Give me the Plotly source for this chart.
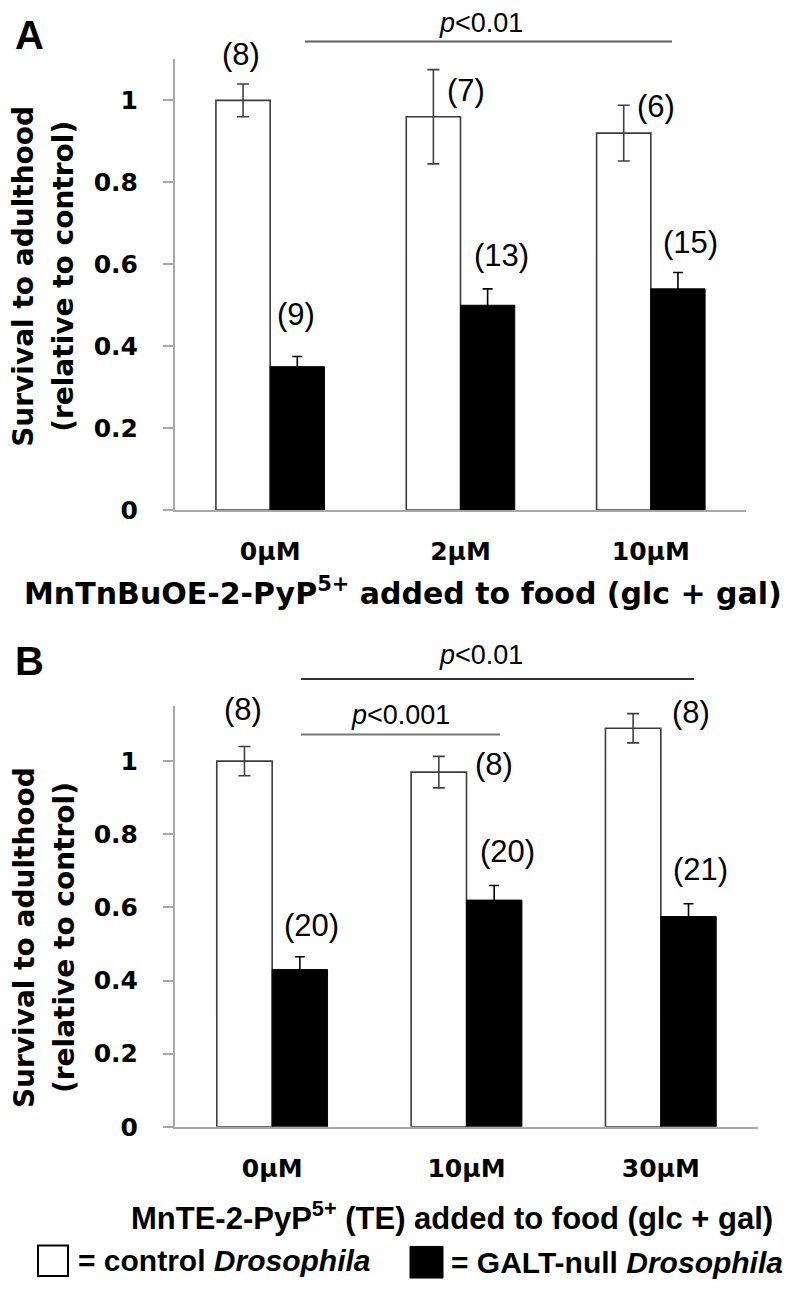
import plotly.graph_objects as go

W, H = 792, 1290

# ---------------- data ----------------
cats_A = ["0µM", "2µM", "10µM"]
ctrl_A = [1.00, 0.96, 0.92]
ctrl_A_err = [0.04, 0.115, 0.068]
galt_A = [0.35, 0.50, 0.54]
galt_A_err = [0.025, 0.04, 0.04]
n_ctrl_A = ["(8)", "(7)", "(6)"]
n_galt_A = ["(9)", "(13)", "(15)"]

cats_B = ["0µM", "10µM", "30µM"]
ctrl_B = [1.00, 0.97, 1.09]
ctrl_B_err = [0.04, 0.043, 0.04]
galt_B = [0.43, 0.62, 0.575]
galt_B_err = [0.035, 0.04, 0.035]
n_ctrl_B = ["(8)", "(8)", "(8)"]
n_galt_B = ["(20)", "(20)", "(21)"]

y_ticks = [0, 0.2, 0.4, 0.6, 0.8, 1.0]
y_ticktext = ["0", "0.2", "0.4", "0.6", "0.8", "1"]

# ---------------- helpers ----------------
def px(x):
    return x / W

def py(y):
    return 1 - y / H

WIDE = "DejaVu Sans"
ARIAL = "Liberation Sans"
AXIS_GRAY = "#A8A8A8"
EDGE = "#3c3c3c"

fig = go.Figure()

def add_bars(cats, ctrl, ctrl_err, galt, galt_err, xa, ya):
    fig.add_trace(go.Bar(
        x=cats, y=ctrl, xaxis=xa, yaxis=ya, name="control",
        marker=dict(color="white", line=dict(color=EDGE, width=1.6)),
        error_y=dict(type="data", array=ctrl_err, color="#404040", thickness=1.6, width=6),
        showlegend=False))
    fig.add_trace(go.Bar(
        x=cats, y=galt, xaxis=xa, yaxis=ya, name="GALT-null",
        marker=dict(color="black", line=dict(color="black", width=1)),
        error_y=dict(type="data", array=galt_err, color="black", thickness=1.6, width=5),
        showlegend=False))

add_bars(cats_A, ctrl_A, ctrl_A_err, galt_A, galt_A_err, "x", "y")
add_bars(cats_B, ctrl_B, ctrl_B_err, galt_B, galt_B_err, "x2", "y2")

tickfont = dict(family=WIDE, size=25, color="black", weight="bold")

def yaxis(domain, rng, anchor):
    return dict(domain=domain, range=rng, anchor=anchor, tickvals=y_ticks, ticktext=y_ticktext,
                showline=True, linecolor=AXIS_GRAY, linewidth=2, ticks="outside",
                ticklen=10, tickwidth=2, tickcolor=AXIS_GRAY, showgrid=False,
                zeroline=False, tickfont=tickfont, ticklabelstandoff=20, fixedrange=True)

def xaxis(domain, anchor):
    return dict(domain=domain, anchor=anchor, showline=True, linecolor=AXIS_GRAY,
                linewidth=2, ticks="", showgrid=False, tickfont=tickfont,
                ticklabelstandoff=18, fixedrange=True)

fig.update_layout(
    width=W, height=H, margin=dict(l=0, r=0, t=0, b=0),
    paper_bgcolor="white", plot_bgcolor="white",
    barmode="group", bargap=0.43, bargroupgap=0,
    xaxis=xaxis([px(167), px(738)], "y"),
    yaxis=yaxis([py(508), py(52)], [0, 1.1], "x"),
    xaxis2=xaxis([px(167), px(750)], "y2"),
    yaxis2=yaxis([py(1132), py(706.5)], [0, 1.15], "x2"),
)

ann = []
def text(x, y, s, size, family=ARIAL, bold=False, angle=0, xanchor="center"):
    ann.append(dict(x=px(x), y=py(y), xref="paper", yref="paper", text=s,
                    showarrow=False, textangle=angle, xanchor=xanchor, yanchor="middle",
                    font=dict(family=family, size=size, color="black",
                              weight="bold" if bold else "normal")))

# panel letters
text(21, 27, "A", 40, family=ARIAL, bold=True)
text(21, 661, "B", 40, family=ARIAL, bold=True)

# y titles (two lines each)
for yc in (272, 941):
    text(16, yc, "Survival to adulthood", 28, family=WIDE, bold=True, angle=-90)
    text(56, yc, "(relative to control)", 28, family=WIDE, bold=True, angle=-90)

# x titles
text(395, 590, "MnTnBuOE-2-PyP<sup>5+</sup> added to food (glc + gal)", 30, family=WIDE, bold=True)
text(444, 1222, "MnTE-2-PyP<sup>5+</sup> (TE) added to food (glc + gal)", 31, family=ARIAL, bold=True)

# n labels
posA_ctrl = [(233, 47), (458, 83), (648, 100)]
posA_galt = [(288, 310), (493, 250), (682, 237)]
posB_ctrl = [(235, 710), (486, 765), (683, 713)]
posB_galt = [(303, 928), (499, 853), (692, 872)]
for labels, pos in [(n_ctrl_A, posA_ctrl), (n_galt_A, posA_galt),
                    (n_ctrl_B, posB_ctrl), (n_galt_B, posB_galt)]:
    for s, (x, y) in zip(labels, pos):
        text(x, y, s, 31)

# p-values
text(473, 15, "<i>p</i><0.01", 27)
text(473, 655, "<i>p</i><0.01", 27)
text(392, 715, "<i>p</i><0.001", 27)

# legend text
text(68, 1267, "= control <i>Drosophila</i>", 30, family=ARIAL, bold=True, xanchor="left")
text(441, 1269, "= GALT-null <i>Drosophila</i>", 30, family=ARIAL, bold=True, xanchor="left")

shapes = []
def hline(x0, x1, y, color, width=2):
    shapes.append(dict(type="line", xref="paper", yref="paper", x0=px(x0), x1=px(x1),
                       y0=py(y), y1=py(y), line=dict(color=color, width=width)))

hline(297, 664, 34, "#606060")
hline(293, 686, 679, "#333333")
hline(293, 492, 735, "#777777")

# legend boxes
shapes.append(dict(type="rect", xref="paper", yref="paper", x0=px(30), x1=px(60),
                   y0=py(1283), y1=py(1252), line=dict(color="black", width=2), fillcolor="white"))
shapes.append(dict(type="rect", xref="paper", yref="paper", x0=px(402), x1=px(435),
                   y0=py(1285), y1=py(1253), line=dict(color="black", width=1), fillcolor="black"))

fig.update_layout(annotations=ann, shapes=shapes)
fig.write_html("out.html")
